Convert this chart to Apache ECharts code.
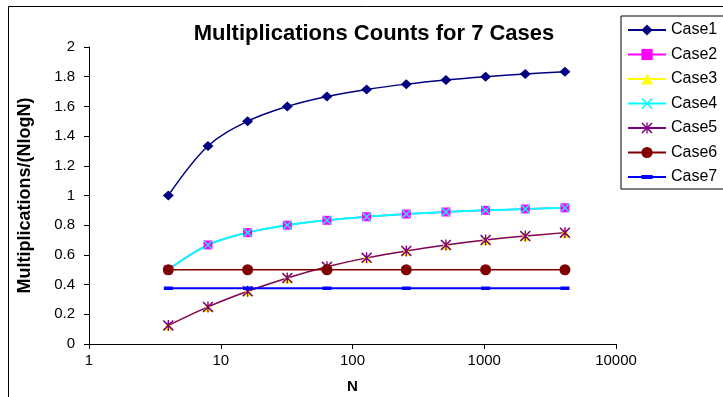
<!DOCTYPE html>
<html>
<head>
<meta charset="utf-8">
<script src="https://cdn.jsdelivr.net/npm/echarts@6/dist/echarts.min.js"></script>
<style>
  html, body { margin: 0; padding: 0; background: #fff; }
  #chart { width: 723px; height: 397px; }
</style>
</head>
<body>
<div id="chart"></div>
<script>
// N values (log scale on x)
var nAll = [4, 8, 16, 32, 64, 128, 256, 512, 1024, 2048, 4096];
var nQuarter = [4, 16, 64, 256, 1024, 4096];

var case1 = [1.0, 1.333, 1.5, 1.6, 1.667, 1.714, 1.75, 1.778, 1.8, 1.818, 1.833];
var case2 = [0.5, 0.667, 0.75, 0.8, 0.833, 0.857, 0.875, 0.889, 0.9, 0.909, 0.917];
var case3 = [0.125, 0.25, 0.355, 0.445, 0.52, 0.58, 0.627, 0.667, 0.7, 0.727, 0.75];
var case4 = [0.5, 0.667, 0.75, 0.8, 0.833, 0.857, 0.875, 0.889, 0.9, 0.909, 0.917];
var case5 = [0.125, 0.25, 0.355, 0.445, 0.52, 0.58, 0.627, 0.667, 0.7, 0.727, 0.75];
var case6 = [0.5, 0.5, 0.5, 0.5, 0.5, 0.5];
var case7 = [0.375, 0.375, 0.375, 0.375, 0.375, 0.375];

var yTicks = ['0', '0.2', '0.4', '0.6', '0.8', '1', '1.2', '1.4', '1.6', '1.8', '2'];
var xTicks = ['1', '10', '100', '1000', '10000'];

var font = 'Liberation Sans, Arial, sans-serif';
var xSym = 'path://M0,1L1,0L5,4L9,0L10,1L6,5L10,9L9,10L5,6L1,10L0,9L4,5Z';
var starSym = 'path://M4.4,0H5.6V10H4.4Z M0,1L1,0L5,4L9,0L10,1L6,5L10,9L9,10L5,6L1,10L0,9L4,5Z';
// thin bar inside a square box (corner points only stretch the bounds)
var dashSym = 'path://M0,0L0.01,0Z M0,2.8H9V6.2H0Z M9,9L8.99,9Z';

function pairs(xs, ys){
	var out = [];
	for(var i=0; i<xs.length; i++){
		out.push([xs[i], ys[i]]);
	}
	return out;
}

function mkSeries(name, xs, ys, color, symbol, size, smooth, width){
	return {
		name: name,
		type: 'line',
		data: pairs(xs, ys),
		smooth: smooth ? 0.35 : false,
		symbol: symbol,
		symbolSize: size,
		symbolKeepAspect: true,
		showAllSymbol: true,
		lineStyle: { color: color, width: width },
		itemStyle: { color: color, borderWidth: 0 },
		emphasis: { disabled: true },
		animation: false
	};
}

var myChart = echarts.init(document.getElementById('chart'));

var option = {
	backgroundColor: '#fff',
	animation: false,
	title: {
		text: 'Multiplications Counts for 7 Cases',
		left: 369,
		textAlign: 'center',
		top: 18,
		textStyle: { fontFamily: font, fontWeight: 'bold', fontSize: 22, color: '#000' }
	},
	graphic: [{
		type: 'rect',
		shape: { x: 8.5, y: 6.5, width: 800, height: 500 },
		style: { fill: 'none', stroke: '#000', lineWidth: 1 },
		z: -1
	}],
	legend: {
		orient: 'vertical',
		left: 621,
		top: 16,
		padding: [6, 60, 4, 6],
		itemGap: 8.5,
		itemWidth: 38,
		itemHeight: 14,
		borderColor: '#000',
		borderWidth: 1,
		backgroundColor: '#fff',
		textStyle: { fontFamily: font, fontSize: 16, color: '#000' },
		data: ['Case1', 'Case2', 'Case3', 'Case4', 'Case5', 'Case6', 'Case7']
	},
	grid: {
		left: 89,
		right: 107,
		top: 47,
		bottom: 53,
		outerBoundsMode: 'none'
	},
	xAxis: {
		type: 'log',
		logBase: 10,
		min: 1,
		max: 10000,
		name: 'N',
		nameLocation: 'middle',
		nameGap: 35,
		nameTextStyle: { fontFamily: font, fontWeight: 'bold', fontSize: 15, color: '#000' },
		axisLine: { lineStyle: { color: '#000', width: 1 } },
		axisTick: { show: true, length: 5, lineStyle: { color: '#000' } },
		minorTick: { show: false },
		splitLine: { show: false },
		axisLabel: {
			fontFamily: font, fontSize: 15, color: '#000', margin: 9,
			formatter: function(v){
				return xTicks[Math.round(Math.log(v) / Math.LN10)];
			}
		}
	},
	yAxis: {
		type: 'value',
		min: 0,
		max: 2,
		interval: 0.2,
		name: 'Multiplications/(NlogN)',
		nameLocation: 'middle',
		nameGap: 55,
		nameTextStyle: { fontFamily: font, fontWeight: 'bold', fontSize: 18, color: '#000' },
		axisLine: { show: true, lineStyle: { color: '#000', width: 1 } },
		axisTick: { show: true, length: 5, lineStyle: { color: '#000' } },
		splitLine: { show: false },
		axisLabel: {
			fontFamily: font, fontSize: 15, color: '#000', margin: 14,
			formatter: function(v){
				return yTicks[Math.round(v / 0.2)];
			}
		}
	},
	series: [
		mkSeries('Case1', nAll, case1, '#000080', 'diamond', [11, 10], true, 1.5),
		mkSeries('Case2', nAll, case2, '#FF00FF', 'rect', 9, true, 1.5),
		mkSeries('Case3', nAll, case3, '#FFFF00', 'triangle', 10, true, 1.5),
		mkSeries('Case4', nAll, case4, '#00FFFF', xSym, 9, true, 2),
		mkSeries('Case5', nAll, case5, '#800080', starSym, 11, true, 1.5),
		mkSeries('Case6', nQuarter, case6, '#800000', 'circle', 11, false, 1.5),
		mkSeries('Case7', nQuarter, case7, '#0000FF', dashSym, 9, false, 2)
	]
};
myChart.setOption(option);
</script>
</body>
</html>
